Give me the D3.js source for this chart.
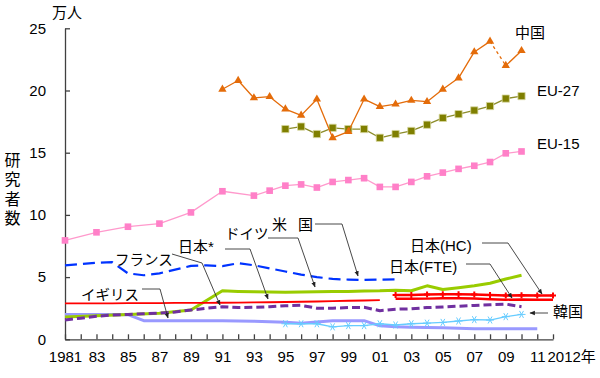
<!DOCTYPE html>
<html><head><meta charset="utf-8">
<script src="https://cdn.jsdelivr.net/npm/d3@7"></script>
<style>
body{margin:0;background:#fff}
text{font-family:"Liberation Sans","Noto Sans CJK JP",sans-serif;fill:#000}
</style>
</head><body>
<svg id="c" width="600" height="378"></svg>
<script>
// ---------- data ----------
const xTickYears = d3.range(1981, 2013);
const xTickLabels = {1981:"1981",1983:"83",1985:"85",1987:"87",1989:"89",1991:"91",1993:"93",1995:"95",1997:"97",1999:"99",2001:"01",2003:"03",2005:"05",2007:"07",2009:"09",2011:"11",2012:"2012年"};
const yTicks = [0,5,10,15,20,25];

const chinaYears = d3.range(1991, 2011);
const chinaValues = [20.1,20.8,19.4,19.5,18.5,18.0,19.3,16.2,16.7,19.3,18.7,18.9,19.2,19.1,20.1,21.0,23.1,23.95,22.0,23.2];

const eu27Years = d3.range(1995, 2011);
const eu27Values = [16.9,17.1,16.5,17.0,16.9,16.9,16.2,16.5,16.75,17.25,17.8,18.1,18.4,18.75,19.35,19.55];

const eu15Years = [1981,1983,1985,1987,1989,1991].concat(d3.range(1993, 2011));
const eu15Values = [7.95,8.6,9.05,9.3,10.2,11.9,11.55,11.95,12.35,12.45,12.2,12.65,12.8,12.95,12.25,12.25,12.65,13.1,13.4,13.7,13.95,14.25,14.95,15.1];

const usYears = d3.range(1981, 2003);
const usValues = [5.95,6.05,6.15,6.2,5.3,5.15,5.3,5.6,5.9,5.95,5.88,6.12,5.95,5.7,5.45,5.2,5.0,4.85,4.8,4.77,4.8,4.82];

const germanyYears = [1981,1983,1985,1987,1989].concat(d3.range(1991, 2011));
const germanyValues = [1.8,1.9,2.0,2.1,2.35,3.9,3.85,3.82,3.8,3.78,3.8,3.82,3.85,3.85,3.88,3.9,3.95,3.9,4.3,4.0,4.15,4.3,4.5,4.85,5.15];

const japanStarYears = d3.range(1981, 2002);
const japanStarValues = [2.88,2.88,2.89,2.89,2.9,2.9,2.91,2.92,2.93,2.93,2.94,2.95,2.97,2.98,3.0,3.02,3.04,3.07,3.1,3.12,3.15];

const franceYears = d3.range(1981, 2011);
const franceValues = [1.55,1.7,1.85,1.95,2.0,2.05,2.1,2.2,2.35,2.5,2.62,2.55,2.57,2.62,2.7,2.73,2.5,2.5,2.55,2.57,2.3,2.42,2.45,2.55,2.6,2.66,2.72,2.78,2.83,2.62];

const ukYears = d3.range(1981, 2012);
const ukValues = [2.0,2.0,2.0,2.0,1.98,1.5,1.5,1.5,1.5,1.5,1.5,1.48,1.45,1.42,1.38,1.3,1.4,1.5,1.5,1.5,1.08,1.0,0.97,0.95,0.92,0.88,0.85,0.85,0.85,0.85,0.85];

const koreaYears = d3.range(1995, 2011);
const koreaValues = [1.25,1.25,1.25,1.0,1.1,1.1,1.25,1.15,1.25,1.3,1.36,1.47,1.58,1.55,1.82,2.0];

const japanHCYears = d3.range(2002, 2013);
const japanHCValues = [3.56,3.56,3.6,3.62,3.62,3.6,3.56,3.52,3.54,3.52,3.52];
const japanFTEYears = d3.range(2002, 2013);
const japanFTEValues = [3.26,3.26,3.27,3.3,3.3,3.28,3.22,3.18,3.2,3.18,3.18];

// ---------- chart ----------
const svg = d3.select("#c");
svg.append("rect").attr("width",600).attr("height",378).attr("fill","#fff");

const x = d3.scaleLinear().domain([1981, 2012]).range([65, 553]);
const y = d3.scaleLinear().domain([0, 25]).range([339.3, 28.3]);

const zip = (ys, vs) => ys.map((yr, i) => ({year: yr, value: vs[i]}));
const line = d3.line().x(d => x(d.year)).y(d => y(d.value));

function drawLine(data, color, width, dash) {
  svg.append("path").datum(data).attr("d", line)
    .attr("fill","none").attr("stroke",color).attr("stroke-width",width)
    .attr("stroke-linejoin","round")
    .attr("stroke-dasharray", dash || null);
}
function drawSymbols(data, type, size, fill, stroke) {
  svg.append("g").selectAll("path").data(data).join("path")
    .attr("transform", d => `translate(${x(d.year)},${y(d.value)})`)
    .attr("d", d3.symbol().type(type).size(size))
    .attr("fill", fill).attr("stroke", stroke || "none").attr("stroke-width", 0.8);
}

// axes
const axisColor = "#404040";
const yAxis = svg.append("g").attr("transform","translate(65,0)")
  .call(d3.axisLeft(y).tickValues(yTicks).tickSizeInner(-5).tickSizeOuter(0).tickPadding(19));
yAxis.selectAll("text").style("font-size","15px").attr("fill","#000");
yAxis.selectAll("line,path").attr("stroke",axisColor).attr("stroke-width",1.3);

const xAxis = svg.append("g").attr("transform",`translate(0,${y(0)})`)
  .call(d3.axisBottom(x).tickValues(xTickYears).tickSizeInner(-5).tickSizeOuter(0).tickPadding(12)
    .tickFormat(d => xTickLabels[d] || ""));
xAxis.selectAll("text").style("font-size","15px").attr("fill","#000");
xAxis.selectAll("line,path").attr("stroke",axisColor).attr("stroke-width",1.3);
xAxis.selectAll(".tick").filter(d => d === 2012).select("text")
  .attr("text-anchor","start").attr("x",-6);

// series
drawLine(zip(ukYears, ukValues), "#9999FF", 3);
const korea = zip(koreaYears, koreaValues);
drawLine(korea, "#66CCFF", 1.3);
drawLine(zip(germanyYears, germanyValues), "#99CC00", 3);
drawLine(zip(japanStarYears, japanStarValues), "#FF0000", 1.8);
drawLine(zip(franceYears, franceValues), "#7030A0", 3, "8,4");
drawLine(zip(usYears, usValues), "#0033FF", 2.2, "12,6");

// Japan HC / FTE band
const hc = zip(japanHCYears, japanHCValues), fte = zip(japanFTEYears, japanFTEValues);
svg.append("path").datum(hc.map((d,i)=>({year:d.year, hi:d.value, lo:fte[i].value})))
  .attr("d", d3.area().x(d=>x(d.year)).y0(d=>y(d.lo)).y1(d=>y(d.hi)))
  .attr("fill","#fff");
drawLine(hc, "#FF0000", 2.4);
drawLine(fte, "#FF0000", 2.4);
svg.append("g").selectAll("path").data(hc).join("path")
  .attr("transform", d => `translate(${x(d.year)},${y(d.value)})`)
  .attr("d", d3.symbol().type(d3.symbolCross).size(20))
  .attr("fill","#FF0000");

// Korea asterisks
svg.append("g").selectAll("path").data(korea).join("path")
  .attr("transform", d => `translate(${x(d.year)},${y(d.value)})`)
  .attr("d", "M-4,0H4M-2,-3.5L2,3.5M-2,3.5L2,-3.5")
  .attr("stroke","#66CCFF").attr("stroke-width",1).attr("fill","none");

// EU-15
const eu15 = zip(eu15Years, eu15Values);
drawLine(eu15, "#FF99CC", 1.3);
drawSymbols(eu15, d3.symbolSquare, 44, "#FF80C8");

// EU-27
const eu27 = zip(eu27Years, eu27Values);
drawLine(eu27, "#8C8C2A", 1.3);
drawSymbols(eu27, d3.symbolSquare, 52, "#7F7F00", "#D8D8A0");

// China (2008 -> 2009 dashed)
const china = zip(chinaYears, chinaValues);
const iBreak = chinaYears.indexOf(2008);
drawLine(china.slice(0, iBreak + 1), "#E46C0A", 1.3);
drawLine(china.slice(iBreak, iBreak + 2), "#E46C0A", 1.3, "3,3");
drawLine(china.slice(iBreak + 1), "#E46C0A", 1.3);
drawSymbols(china, d3.symbolTriangle, 30, "#E46C0A");

// ---------- labels ----------
function label(t, px, py, size) {
  svg.append("text").attr("x",px).attr("y",py).style("font-size",(size||15)+"px").text(t);
}
label("万人", 52, 18, 15);
["研","究","者","数"].forEach((c,i) => {
  svg.append("text").attr("x",12.5).attr("y",166 + i*19.3).attr("text-anchor","middle")
    .style("font-size","16px").text(c);
});
label("中国", 515, 38);
label("EU-27", 537, 96);
label("EU-15", 537, 148.5);
label("米", 272, 230);
label("国", 298, 230);
label("ドイツ", 225, 238.5, 14.5);
label("日本*", 178, 251.5);
label("フランス", 115, 265, 14.5);
label("イギリス", 81, 300, 14.5);
label("日本(HC)", 410, 250.5);
label("日本(FTE)", 389, 272);
label("韓国", 553, 317);

// leader lines with arrowheads
svg.append("defs").append("marker").attr("id","ah")
  .attr("viewBox","0 0 10 10").attr("refX",9).attr("refY",5)
  .attr("markerWidth",6).attr("markerHeight",6).attr("orient","auto")
  .append("path").attr("d","M0,1L10,5L0,9Z").attr("fill","#222");

const leaders = [
  [[315,224],[342,224],[358,276]],
  [[268,238],[298,238],[315,287]],
  [[225,249],[250,249],[268,299]],
  [[172,254],[202,263],[220,305]],
  [[142,289],[160,289],[168,318]],
  [[482,243],[508,243],[542,294]],
  [[466,264],[490,264],[512,298]],
  [[548,313],[530,313]]
];
leaders.forEach(pts => {
  svg.append("path").attr("d", d3.line()(pts))
    .attr("fill","none").attr("stroke","#333").attr("stroke-width",0.9)
    .attr("marker-end","url(#ah)");
});
</script>
</body></html>
